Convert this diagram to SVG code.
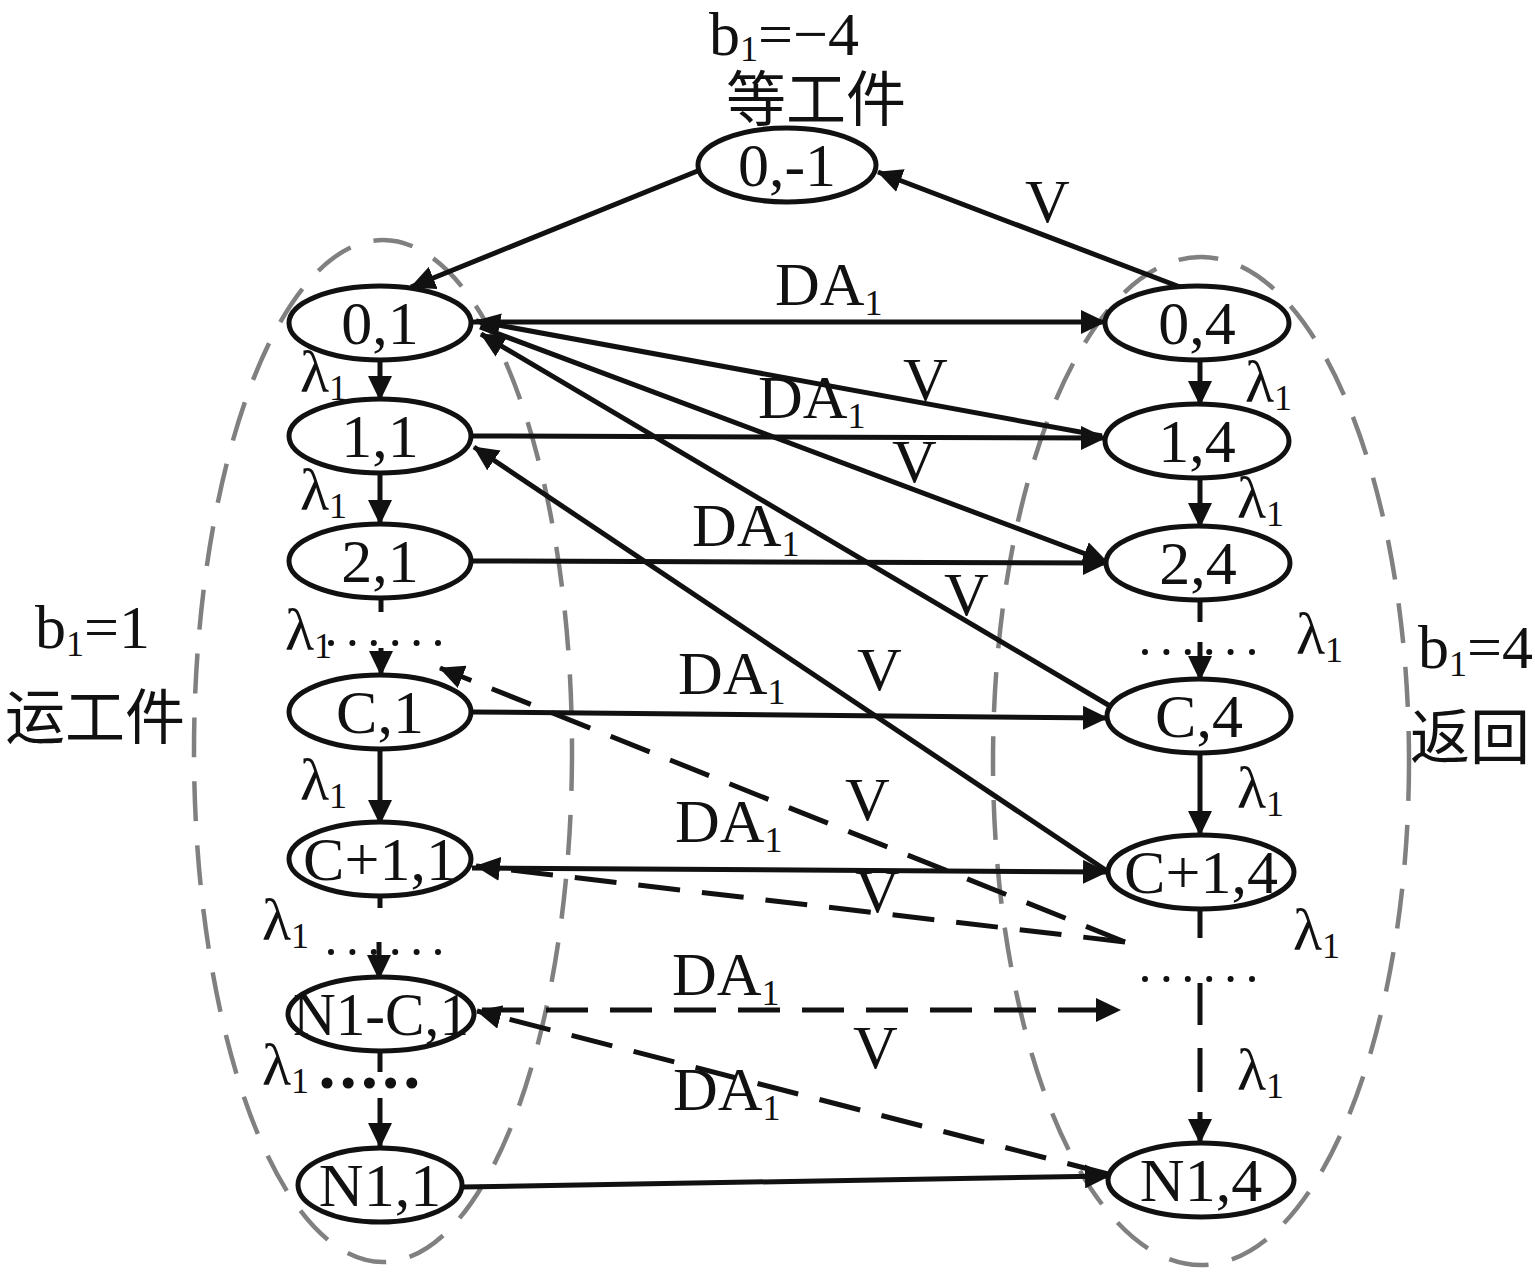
<svg xmlns="http://www.w3.org/2000/svg" width="1535" height="1276" viewBox="0 0 1535 1276">
<style>
  text { font-family: "Liberation Serif", "Noto Sans CJK SC", serif; fill: #111; }
  .node ellipse { fill: #fff; stroke: #111; stroke-width: 5; }
  .node text { font-size: 62px; text-anchor: middle; }
  .lbl { font-size: 62px; }
  .lam { font-size: 60px; }
  .sub { font-size: 36px; }
  .cjk { font-size: 60px; font-family: "Noto Sans CJK SC", serif; }
  .group { fill: none; stroke: #808080; stroke-width: 4.5; stroke-dasharray: 40 24; }
  .c { stroke: #111; stroke-width: 5; fill: none; }
  .d { stroke: #111; stroke-width: 5; fill: none; stroke-dasharray: 42 22; }
  .dots { stroke: #111; stroke-width: 6; stroke-linecap: round; stroke-dasharray: 0 21.4; fill: none; }
  .bdots { stroke: #111; stroke-width: 11; stroke-linecap: round; stroke-dasharray: 0 21.2; fill: none; }
  .arr { marker-end: url(#ah); }
</style>
<defs>
  <marker id="ah" viewBox="0 0 25 24" refX="24" refY="12" markerWidth="25" markerHeight="24" markerUnits="userSpaceOnUse" orient="auto">
    <path d="M0,0 L25,12 L0,24 z" fill="#111"/>
  </marker>
</defs>
<rect width="1535" height="1276" fill="#fff"/>

<g id="groups">
  <ellipse class="group" cx="383" cy="751" rx="189" ry="511"/>
  <ellipse class="group" cx="1201" cy="761" rx="208" ry="504"/>
</g>

<g id="texts">
  <text class="lbl" x="709" y="55" font-size="59">b<tspan class="sub" dy="6">1</tspan><tspan dy="-6">=−4</tspan></text>
  <text class="cjk" x="726" y="121" font-size="59">等工件</text>
  <text class="lbl" x="35" y="648">b<tspan class="sub" dy="8">1</tspan><tspan dy="-8">=1</tspan></text>
  <text class="cjk" x="5" y="739">运工件</text>
  <text class="lbl" x="1418" y="668">b<tspan class="sub" dy="8">1</tspan><tspan dy="-8">=4</tspan></text>
  <text class="cjk" x="1410" y="759">返回</text>
</g>

<g id="connectors">
  <line class="c arr" x1="700" y1="170" x2="411" y2="287"/>
  <line class="c arr" x1="1180" y1="287" x2="878" y2="172"/>
  <line class="c arr" x1="472" y1="322" x2="1105" y2="322"/>
  <line class="c arr" x1="1102" y1="436" x2="476" y2="321"/>
  <line class="c arr" x1="480" y1="327" x2="1107" y2="562"/>
  <line class="c arr" x1="1110" y1="706" x2="481" y2="334"/>
  <line class="c arr" x1="1110" y1="873" x2="474" y2="447"/>
  <line class="c arr" x1="472" y1="436" x2="1105" y2="438"/>
  <line class="c arr" x1="472" y1="561" x2="1107" y2="563"/>
  <line class="c arr" x1="472" y1="712" x2="1107" y2="718"/>
  <line class="c arr" x1="472" y1="868" x2="1107" y2="872"/>
  <line class="c arr" x1="462" y1="1187" x2="1109" y2="1176"/>
  <line class="d arr" x1="1125" y1="942" x2="440" y2="668"/>
  <line class="d arr" x1="1125" y1="942" x2="476" y2="866"/>
  <line class="d arr" x1="482" y1="1010" x2="1120" y2="1010"/>
  <line class="d arr" x1="1108" y1="1174" x2="477" y2="1011"/>
  <!-- left vertical -->
  <line class="c arr" x1="380" y1="360" x2="380" y2="400"/>
  <line class="c arr" x1="380" y1="473" x2="380" y2="524"/>
  <line class="c" x1="381" y1="598" x2="381" y2="612"/>
  <line class="dots" x1="331" y1="643" x2="438" y2="643"/>
  <line class="c arr" x1="381" y1="648" x2="381" y2="675"/>
  <line class="c arr" x1="380" y1="749" x2="380" y2="824"/>
  <line class="c" x1="380" y1="896" x2="380" y2="908"/>
  <line class="dots" x1="331" y1="952" x2="438" y2="952"/>
  <line class="c arr" x1="379" y1="942" x2="379" y2="979"/>
  <line class="c" x1="380" y1="1053" x2="380" y2="1072"/>
  <line class="bdots" x1="327" y1="1083" x2="433" y2="1083"/>
  <line class="c arr" x1="380" y1="1098" x2="380" y2="1147"/>
  <!-- right vertical -->
  <line class="c arr" x1="1200" y1="360" x2="1200" y2="405"/>
  <line class="c arr" x1="1200" y1="477" x2="1200" y2="527"/>
  <line class="c" x1="1200" y1="600" x2="1200" y2="622"/>
  <line class="dots" x1="1145" y1="652" x2="1252" y2="652"/>
  <line class="c arr" x1="1200" y1="642" x2="1200" y2="680"/>
  <line class="c arr" x1="1200" y1="753" x2="1200" y2="835"/>
  <line class="c" x1="1200" y1="909" x2="1200" y2="938"/>
  <line class="dots" x1="1145" y1="979" x2="1252" y2="979"/>
  <line class="c" x1="1200" y1="983" x2="1200" y2="1025"/>
  <line class="c" x1="1200" y1="1048" x2="1200" y2="1092"/>
  <line class="c arr" x1="1200" y1="1112" x2="1200" y2="1143"/>
</g>

<g id="edge-labels">
  <text class="lbl" x="1025" y="222">V</text>
  <text class="lbl" x="775" y="305">DA<tspan class="sub" dy="10">1</tspan></text>
  <text class="lbl" x="903" y="400">V</text>
  <text class="lbl" x="758" y="418">DA<tspan class="sub" dy="10">1</tspan></text>
  <text class="lbl" x="892" y="482">V</text>
  <text class="lbl" x="692" y="546">DA<tspan class="sub" dy="10">1</tspan></text>
  <text class="lbl" x="944" y="615">V</text>
  <text class="lbl" x="857" y="690">V</text>
  <text class="lbl" x="678" y="694">DA<tspan class="sub" dy="10">1</tspan></text>
  <text class="lbl" x="845" y="820">V</text>
  <text class="lbl" x="675" y="842">DA<tspan class="sub" dy="10">1</tspan></text>
  <text class="lbl" x="855" y="912">V</text>
  <text class="lbl" x="672" y="995">DA<tspan class="sub" dy="10">1</tspan></text>
  <text class="lbl" x="853" y="1068">V</text>
  <text class="lbl" x="673" y="1110">DA<tspan class="sub" dy="10">1</tspan></text>
  <text class="lam" x="300" y="392">λ<tspan class="sub" dy="8">1</tspan></text>
  <text class="lam" x="300" y="510">λ<tspan class="sub" dy="8">1</tspan></text>
  <text class="lam" x="285" y="650">λ<tspan class="sub" dy="8">1</tspan></text>
  <text class="lam" x="300" y="800">λ<tspan class="sub" dy="8">1</tspan></text>
  <text class="lam" x="262" y="940">λ<tspan class="sub" dy="8">1</tspan></text>
  <text class="lam" x="262" y="1085">λ<tspan class="sub" dy="8">1</tspan></text>
  <text class="lam" x="1245" y="402">λ<tspan class="sub" dy="8">1</tspan></text>
  <text class="lam" x="1237" y="518">λ<tspan class="sub" dy="8">1</tspan></text>
  <text class="lam" x="1296" y="654">λ<tspan class="sub" dy="8">1</tspan></text>
  <text class="lam" x="1237" y="808">λ<tspan class="sub" dy="8">1</tspan></text>
  <text class="lam" x="1293" y="950">λ<tspan class="sub" dy="8">1</tspan></text>
  <text class="lam" x="1237" y="1090">λ<tspan class="sub" dy="8">1</tspan></text>
</g>

<g id="n0m1" class="node"><ellipse cx="787" cy="165" rx="89" ry="37"/><text x="787" y="186">0,-1</text></g>
<g id="n01" class="node"><ellipse cx="380" cy="323" rx="91" ry="37"/><text x="380" y="344">0,1</text></g>
<g id="n11" class="node"><ellipse cx="380" cy="436" rx="91" ry="37"/><text x="380" y="457">1,1</text></g>
<g id="n21" class="node"><ellipse cx="380" cy="561" rx="91" ry="37"/><text x="380" y="582">2,1</text></g>
<g id="nC1" class="node"><ellipse cx="380" cy="712" rx="91" ry="37"/><text x="380" y="733">C,1</text></g>
<g id="nC11" class="node"><ellipse cx="380" cy="859" rx="91" ry="37"/><text x="380" y="880">C+1,1</text></g>
<g id="nN1C1" class="node"><ellipse cx="381" cy="1014" rx="93" ry="37"/><text x="381" y="1035" textLength="176" lengthAdjust="spacingAndGlyphs">N1-C,1</text></g>
<g id="nN11" class="node"><ellipse cx="380" cy="1185" rx="82" ry="37"/><text x="380" y="1206">N1,1</text></g>
<g id="n04" class="node"><ellipse cx="1197" cy="323" rx="92" ry="37"/><text x="1197" y="344">0,4</text></g>
<g id="n14" class="node"><ellipse cx="1197" cy="441" rx="92" ry="37"/><text x="1197" y="462">1,4</text></g>
<g id="n24" class="node"><ellipse cx="1198" cy="563" rx="92" ry="37"/><text x="1198" y="584">2,4</text></g>
<g id="nC4" class="node"><ellipse cx="1199" cy="716" rx="92" ry="37"/><text x="1199" y="737">C,4</text></g>
<g id="nC14" class="node"><ellipse cx="1201" cy="872" rx="93" ry="37"/><text x="1201" y="893">C+1,4</text></g>
<g id="nN14" class="node"><ellipse cx="1201" cy="1180" rx="93" ry="37"/><text x="1201" y="1201">N1,4</text></g>
</svg>
